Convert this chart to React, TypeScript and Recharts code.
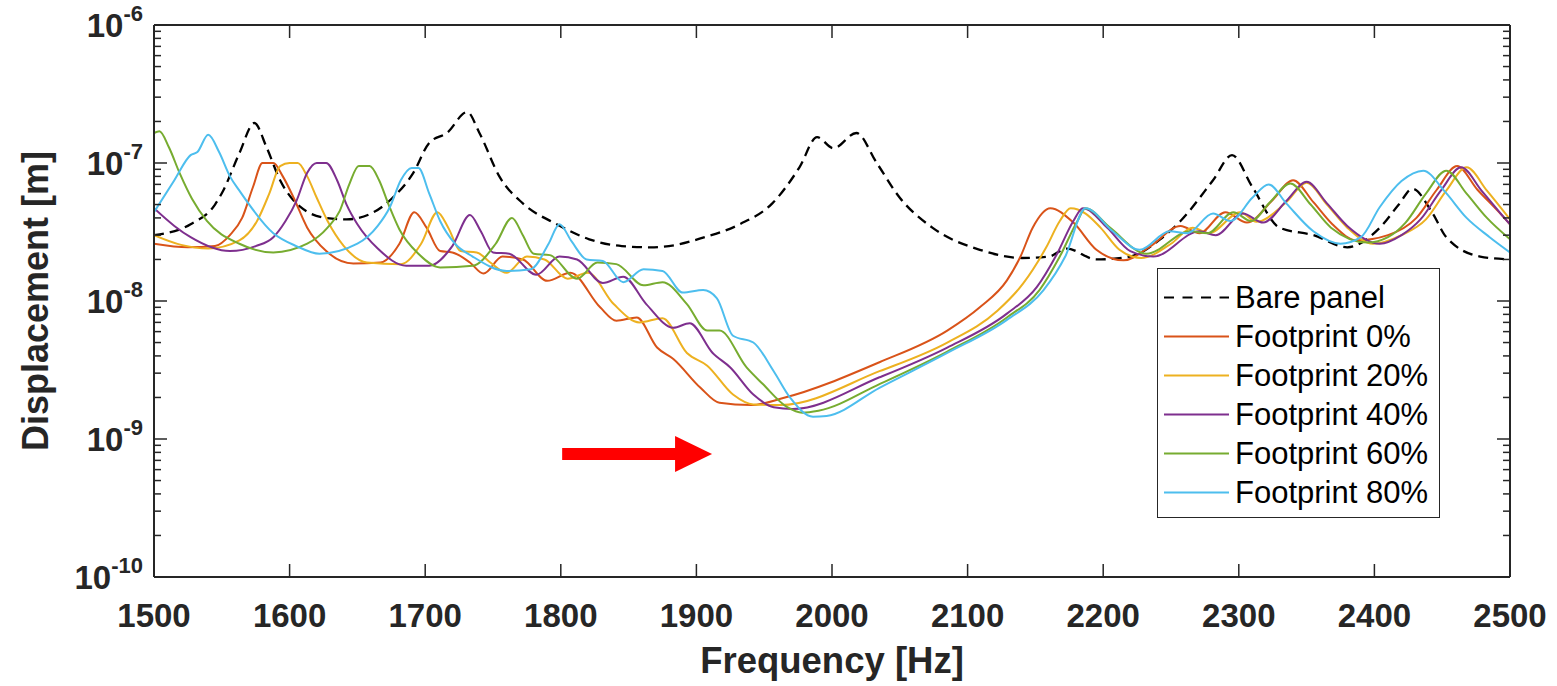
import React from 'react';
import {
  LineChart,
  Line,
  XAxis,
  YAxis,
  Legend,
  ReferenceLine,
  ReferenceDot,
} from 'recharts';

// frequency [Hz], displacement [m]
const barePanel = [
  [1500, 3.0e-8], [1527, 3.6e-8], [1545, 5.0e-8], [1551, 6.3e-8], [1563, 1.18e-7],
  [1574, 1.95e-7], [1583, 1.3e-7], [1593, 7.5e-8], [1608, 4.8e-8], [1627, 4.0e-8],
  [1642, 3.9e-8], [1662, 4.4e-8], [1676, 5.6e-8], [1691, 8.4e-8], [1703, 1.4e-7],
  [1716, 1.65e-7], [1731, 2.34e-7], [1740, 1.65e-7], [1755, 7.9e-8], [1772, 5.1e-8],
  [1797, 3.6e-8], [1821, 2.8e-8], [1845, 2.5e-8], [1866, 2.45e-8], [1885, 2.55e-8],
  [1903, 2.84e-8], [1932, 3.6e-8], [1956, 5.1e-8], [1976, 9.3e-8], [1989, 1.54e-7],
  [2001, 1.28e-7], [2018, 1.65e-7], [2033, 1.0e-7], [2050, 5.6e-8], [2074, 3.4e-8],
  [2109, 2.35e-8], [2140, 2.05e-8], [2160, 2.1e-8], [2173, 2.4e-8], [2195, 2.0e-8],
  [2220, 2.1e-8], [2242, 2.8e-8], [2257, 3.8e-8], [2281, 7.5e-8], [2295, 1.14e-7],
  [2310, 6.7e-8], [2330, 3.4e-8], [2355, 3.0e-8], [2380, 2.45e-8], [2404, 3.4e-8],
  [2418, 5.0e-8], [2428, 6.5e-8], [2443, 4.3e-8], [2453, 2.9e-8], [2478, 2.1e-8],
  [2500, 2.0e-8],
];

const footprint0 = [
  [1500, 2.6e-8], [1525, 2.45e-8], [1545, 2.5e-8], [1556, 3.0e-8], [1565, 4.0e-8],
  [1573, 6.7e-8], [1580, 1.0e-7], [1588, 1.0e-7], [1595, 8.0e-8], [1603, 5.6e-8],
  [1613, 3.4e-8], [1627, 2.3e-8], [1647, 1.87e-8], [1667, 1.9e-8], [1681, 2.6e-8],
  [1692, 4.4e-8], [1701, 3.4e-8], [1711, 2.3e-8], [1720, 2.25e-8], [1733, 1.9e-8],
  [1743, 1.58e-8], [1757, 2.1e-8], [1772, 2.0e-8], [1790, 1.4e-8], [1807, 1.6e-8],
  [1829, 9.0e-9], [1841, 7.2e-9], [1856, 7.6e-9], [1871, 4.6e-9], [1883, 3.8e-9],
  [1903, 2.35e-9], [1917, 1.83e-9], [1940, 1.76e-9], [1964, 1.98e-9], [2035, 3.6e-9],
  [2085, 6.1e-9], [2109, 9.0e-9], [2129, 1.41e-8], [2139, 2.1e-8], [2148, 3.4e-8],
  [2161, 4.7e-8], [2178, 3.7e-8], [2195, 2.35e-8], [2215, 1.97e-8], [2235, 2.5e-8],
  [2257, 3.5e-8], [2271, 3.1e-8], [2290, 4.4e-8], [2306, 3.7e-8], [2325, 5.4e-8],
  [2340, 7.5e-8], [2355, 5.2e-8], [2369, 3.6e-8], [2387, 2.75e-8], [2410, 3.0e-8],
  [2431, 4.0e-8], [2446, 6.4e-8], [2461, 9.5e-8], [2476, 6.4e-8], [2491, 4.5e-8],
  [2500, 3.6e-8],
];

const footprint20 = [
  [1500, 3.0e-8], [1520, 2.55e-8], [1540, 2.4e-8], [1563, 2.75e-8], [1576, 3.8e-8],
  [1585, 6.0e-8], [1593, 9.5e-8], [1600, 1.0e-7], [1606, 1.0e-7], [1613, 8.0e-8],
  [1620, 5.6e-8], [1628, 3.8e-8], [1640, 2.5e-8], [1657, 1.9e-8], [1682, 1.85e-8],
  [1697, 2.6e-8], [1709, 4.4e-8], [1717, 3.4e-8], [1726, 2.3e-8], [1738, 2.25e-8],
  [1748, 1.9e-8], [1760, 1.6e-8], [1775, 2.1e-8], [1788, 2.0e-8], [1805, 1.45e-8],
  [1820, 1.6e-8], [1839, 9.5e-9], [1858, 7.0e-9], [1875, 7.5e-9], [1893, 4.2e-9],
  [1908, 3.4e-9], [1927, 2.1e-9], [1942, 1.78e-9], [1962, 1.76e-9], [2035, 3.1e-9],
  [2085, 5.0e-9], [2122, 8.5e-9], [2141, 1.34e-8], [2158, 2.45e-8], [2168, 3.8e-8],
  [2176, 4.7e-8], [2187, 4.3e-8], [2198, 3.4e-8], [2212, 2.35e-8], [2228, 2.05e-8],
  [2250, 2.6e-8], [2266, 3.4e-8], [2278, 3.1e-8], [2301, 4.4e-8], [2313, 3.75e-8],
  [2335, 5.2e-8], [2350, 7.2e-8], [2365, 5.0e-8], [2380, 3.4e-8], [2399, 2.6e-8],
  [2420, 3.0e-8], [2438, 3.9e-8], [2453, 6.3e-8], [2468, 9.3e-8], [2483, 6.3e-8],
  [2500, 3.9e-8],
];

const footprint40 = [
  [1500, 4.7e-8], [1515, 3.5e-8], [1527, 2.9e-8], [1556, 2.3e-8], [1575, 2.5e-8],
  [1588, 2.9e-8], [1597, 3.8e-8], [1605, 5.3e-8], [1613, 8.5e-8], [1620, 1.0e-7],
  [1627, 1.0e-7], [1635, 7.5e-8], [1642, 5.0e-8], [1650, 3.6e-8], [1665, 2.4e-8],
  [1686, 1.8e-8], [1703, 1.8e-8], [1720, 2.5e-8], [1733, 4.2e-8], [1741, 3.2e-8],
  [1750, 2.25e-8], [1762, 2.2e-8], [1782, 1.55e-8], [1799, 2.1e-8], [1812, 2.0e-8],
  [1831, 1.35e-8], [1846, 1.5e-8], [1863, 9.5e-9], [1883, 6.4e-9], [1895, 6.9e-9],
  [1912, 4.2e-9], [1925, 3.3e-9], [1942, 2.1e-9], [1957, 1.7e-9], [1971, 1.65e-9],
  [2035, 2.8e-9], [2085, 4.6e-9], [2129, 8.1e-9], [2151, 1.26e-8], [2166, 2.2e-8],
  [2178, 3.8e-8], [2185, 4.7e-8], [2203, 3.4e-8], [2220, 2.3e-8], [2237, 2.1e-8],
  [2271, 3.2e-8], [2283, 3.0e-8], [2303, 4.3e-8], [2318, 3.7e-8], [2335, 5.3e-8],
  [2350, 7.3e-8], [2365, 5.1e-8], [2380, 3.5e-8], [2404, 2.6e-8], [2420, 3.0e-8],
  [2434, 3.9e-8], [2449, 6.3e-8], [2464, 9.3e-8], [2479, 6.3e-8], [2494, 4.2e-8],
  [2500, 3.6e-8],
];

const footprint60 = [
  [1500, 1.65e-7], [1504, 1.7e-7], [1511, 1.3e-7], [1519, 8.4e-8], [1528, 5.5e-8],
  [1539, 3.8e-8], [1563, 2.6e-8], [1588, 2.25e-8], [1613, 2.6e-8], [1628, 3.4e-8],
  [1637, 4.5e-8], [1644, 7.0e-8], [1651, 9.5e-8], [1659, 9.5e-8], [1666, 7.5e-8],
  [1673, 5.0e-8], [1681, 3.3e-8], [1695, 2.2e-8], [1711, 1.75e-8], [1735, 1.8e-8],
  [1752, 2.6e-8], [1764, 4.0e-8], [1772, 3.0e-8], [1780, 2.2e-8], [1792, 2.15e-8],
  [1812, 1.45e-8], [1827, 1.9e-8], [1841, 1.85e-8], [1861, 1.3e-8], [1875, 1.37e-8],
  [1893, 9.5e-9], [1908, 6.1e-9], [1917, 6.1e-9], [1937, 3.3e-9], [1949, 2.5e-9],
  [1967, 1.7e-9], [1978, 1.55e-9], [1990, 1.6e-9], [2035, 2.5e-9], [2085, 4.3e-9],
  [2129, 7.6e-9], [2153, 1.2e-8], [2168, 2.1e-8], [2181, 3.8e-8], [2187, 4.7e-8],
  [2205, 3.4e-8], [2232, 2.2e-8], [2264, 3.2e-8], [2277, 3.1e-8], [2296, 4.4e-8],
  [2309, 3.8e-8], [2323, 5.2e-8], [2338, 7.1e-8], [2353, 5.0e-8], [2368, 3.4e-8],
  [2395, 2.65e-8], [2410, 2.9e-8], [2423, 3.7e-8], [2438, 6.0e-8], [2453, 8.8e-8],
  [2468, 6.0e-8], [2483, 4.0e-8], [2500, 2.8e-8],
];

const footprint80 = [
  [1500, 4.4e-8], [1515, 7.5e-8], [1527, 1.14e-7], [1532, 1.2e-7], [1540, 1.6e-7],
  [1548, 1.2e-7], [1556, 8.0e-8], [1563, 6.3e-8], [1588, 3.1e-8], [1605, 2.5e-8],
  [1622, 2.2e-8], [1650, 2.6e-8], [1665, 3.5e-8], [1674, 4.8e-8], [1682, 7.5e-8],
  [1690, 9.2e-8], [1695, 9.2e-8], [1703, 6.0e-8], [1711, 3.8e-8], [1722, 2.6e-8],
  [1735, 2.1e-8], [1760, 1.65e-8], [1778, 1.7e-8], [1791, 2.6e-8], [1799, 3.6e-8],
  [1808, 2.7e-8], [1819, 2.0e-8], [1831, 1.95e-8], [1846, 1.37e-8], [1861, 1.7e-8],
  [1875, 1.65e-8], [1890, 1.15e-8], [1905, 1.2e-8], [1915, 1.05e-8], [1927, 5.6e-9],
  [1942, 5.0e-9], [1957, 3.1e-9], [1969, 2.0e-9], [1986, 1.45e-9], [1996, 1.47e-9],
  [2035, 2.35e-9], [2085, 4.2e-9], [2129, 7.3e-9], [2156, 1.2e-8], [2172, 2.1e-8],
  [2187, 4.7e-8], [2207, 3.2e-8], [2227, 2.35e-8], [2249, 3.2e-8], [2262, 3.1e-8],
  [2281, 4.3e-8], [2294, 3.8e-8], [2310, 5.6e-8], [2322, 7.0e-8], [2335, 5.1e-8],
  [2355, 3.2e-8], [2375, 2.6e-8], [2390, 2.9e-8], [2404, 4.8e-8], [2420, 7.4e-8],
  [2436, 8.8e-8], [2452, 6.2e-8], [2468, 4.0e-8], [2485, 2.9e-8], [2500, 2.25e-8],
];

const freqTicks = [1500, 1600, 1700, 1800, 1900, 2000, 2100, 2200, 2300, 2400, 2500];
const decades = [1e-10, 1e-9, 1e-8, 1e-7, 1e-6];
const dispTicks = [
  ...decades,
  ...decades.slice(0, -1).flatMap((d) =>
    [2, 3, 4, 5, 6, 7, 8, 9].map((k) => Number((k * d).toPrecision(2)))
  ),
].sort((a, b) => a - b);

// red arrow annotation
const arrowStart = 1801;
const arrowHead = 1885;
const arrowLevel = 7.8e-10;

const INK = '#262626';
const FONT = '"Liberation Sans", Arial, Helvetica, sans-serif';

const series = [
  { name: 'Bare panel', data: barePanel, color: '#000000', dash: '10 6' },
  { name: 'Footprint 0%', data: footprint0, color: '#D95319' },
  { name: 'Footprint 20%', data: footprint20, color: '#EDB120' },
  { name: 'Footprint 40%', data: footprint40, color: '#7E2F8E' },
  { name: 'Footprint 60%', data: footprint60, color: '#77AC30' },
  { name: 'Footprint 80%', data: footprint80, color: '#4DBEEE' },
];

const toPoints = (rows: number[][]) => rows.map(([f, v]) => ({ f, v }));

const isDecade = (v: number) => {
  const e = Math.log10(v);
  return Math.abs(e - Math.round(e)) < 1e-6;
};

const LeftTick = ({ x, y, payload }: any) => {
  const major = isDecade(payload.value);
  const exp = Math.round(Math.log10(payload.value));
  return (
    <g>
      <line x1={x} x2={x + (major ? 13 : 7)} y1={y} y2={y} stroke={INK} strokeWidth={1.5} />
      {major && (
        <text
          x={x - 11}
          y={y + 12}
          textAnchor="end"
          fill={INK}
          fontFamily={FONT}
          fontWeight="bold"
          fontSize={33}
        >
          10
          <tspan dy={-16} fontSize={22}>
            {`${exp}`}
          </tspan>
        </text>
      )}
    </g>
  );
};

const RightTick = ({ x, y, payload }: any) => {
  const major = isDecade(payload.value);
  return <line x1={x} x2={x - (major ? 13 : 7)} y1={y} y2={y} stroke={INK} strokeWidth={1.5} />;
};

const BottomTick = ({ x, y, payload }: any) => (
  <g>
    <line x1={x} x2={x} y1={y} y2={y - 13} stroke={INK} strokeWidth={1.5} />
    <text
      x={x}
      y={y + 50}
      textAnchor="middle"
      fill={INK}
      fontFamily={FONT}
      fontWeight="bold"
      fontSize={33}
    >
      {payload.value}
    </text>
  </g>
);

const TopTick = ({ x, y }: any) => (
  <line x1={x} x2={x} y1={y} y2={y + 13} stroke={INK} strokeWidth={1.5} />
);

const xTitle = (props: any) => {
  const vb = props.viewBox || { x: 154, y: 577, width: 1356 };
  return (
    <text
      x={vb.x + vb.width / 2}
      y={vb.y + 96}
      textAnchor="middle"
      fill={INK}
      fontFamily={FONT}
      fontWeight="bold"
      fontSize={36.5}
    >
      Frequency [Hz]
    </text>
  );
};

const yTitle = (props: any) => {
  const vb = props.viewBox || { x: 0, y: 25, height: 552 };
  const cx = vb.x + 48;
  const cy = vb.y + vb.height / 2;
  return (
    <text
      x={cx}
      y={cy}
      transform={`rotate(-90, ${cx}, ${cy})`}
      textAnchor="middle"
      fill={INK}
      fontFamily={FONT}
      fontWeight="bold"
      fontSize={36}
    >
      Displacement [m]
    </text>
  );
};

const renderLegend = () => (
  <div
    style={{
      width: 283,
      height: 250,
      boxSizing: 'border-box',
      border: `1px solid ${INK}`,
      background: '#fff',
      paddingTop: 9,
      fontFamily: FONT,
    }}
  >
    {series.map((s) => (
      <div key={s.name} style={{ display: 'flex', alignItems: 'center', height: 39 }}>
        <svg width={77} height={39} style={{ display: 'block' }}>
          <line
            x1={6}
            x2={71}
            y1={19.5}
            y2={19.5}
            stroke={s.color}
            strokeWidth={2}
            strokeDasharray={s.dash ? '10 8.5' : undefined}
          />
        </svg>
        <span style={{ fontSize: 31, color: '#000', lineHeight: '39px', whiteSpace: 'nowrap' }}>
          {s.name}
        </span>
      </div>
    ))}
  </div>
);

const App = () => {
  return (
    <div style={{ position: 'absolute', left: 0, top: 0, background: '#fff' }}>
      <LineChart
        width={1557}
        height={686}
        margin={{ top: 20, right: 37, bottom: 19, left: 0 }}
      >
        <XAxis
          dataKey="f"
          type="number"
          domain={[1500, 2500]}
          allowDataOverflow
          ticks={freqTicks}
          interval={0}
          tickSize={0}
          tickMargin={0}
          tick={BottomTick}
          axisLine={{ stroke: INK, strokeWidth: 2 }}
          height={90}
          label={xTitle}
        />
        <XAxis
          xAxisId="top"
          orientation="top"
          dataKey="f"
          type="number"
          domain={[1500, 2500]}
          allowDataOverflow
          ticks={freqTicks}
          interval={0}
          tickSize={0}
          tickMargin={0}
          tick={TopTick}
          axisLine={{ stroke: INK, strokeWidth: 2 }}
          height={5}
        />
        <YAxis
          type="number"
          scale="log"
          domain={[1e-10, 1e-6]}
          allowDataOverflow
          ticks={dispTicks}
          interval={0}
          tickSize={0}
          tickMargin={0}
          tick={LeftTick}
          axisLine={{ stroke: INK, strokeWidth: 2 }}
          width={154}
          label={yTitle}
        />
        <YAxis
          yAxisId="right"
          orientation="right"
          type="number"
          scale="log"
          domain={[1e-10, 1e-6]}
          allowDataOverflow
          ticks={dispTicks}
          interval={0}
          tickSize={0}
          tickMargin={0}
          tick={RightTick}
          axisLine={{ stroke: INK, strokeWidth: 2 }}
          width={10}
        />
        {series.map((s) => (
          <Line
            key={s.name}
            name={s.name}
            data={toPoints(s.data)}
            dataKey="v"
            type="monotone"
            stroke={s.color}
            strokeWidth={s.dash ? 2.3 : 2}
            strokeDasharray={s.dash}
            dot={false}
            activeDot={false}
            isAnimationActive={false}
          />
        ))}
        <ReferenceLine
          segment={[
            { x: arrowStart, y: arrowLevel },
            { x: arrowHead, y: arrowLevel },
          ]}
          stroke="#FF0000"
          strokeWidth={12}
        />
        <ReferenceDot
          x={arrowHead}
          y={arrowLevel}
          r={18}
          shape={(p: any) => (
            <polygon
              points={`${p.cx - 1},${p.cy - 18} ${p.cx + 36},${p.cy} ${p.cx - 1},${p.cy + 18}`}
              fill="#FF0000"
            />
          )}
        />
        <Legend
          layout="vertical"
          align="center"
          verticalAlign="middle"
          content={renderLegend}
          wrapperStyle={{ left: 1157, top: 268, width: 283, height: 250 }}
        />
      </LineChart>
    </div>
  );
};

export default App;
